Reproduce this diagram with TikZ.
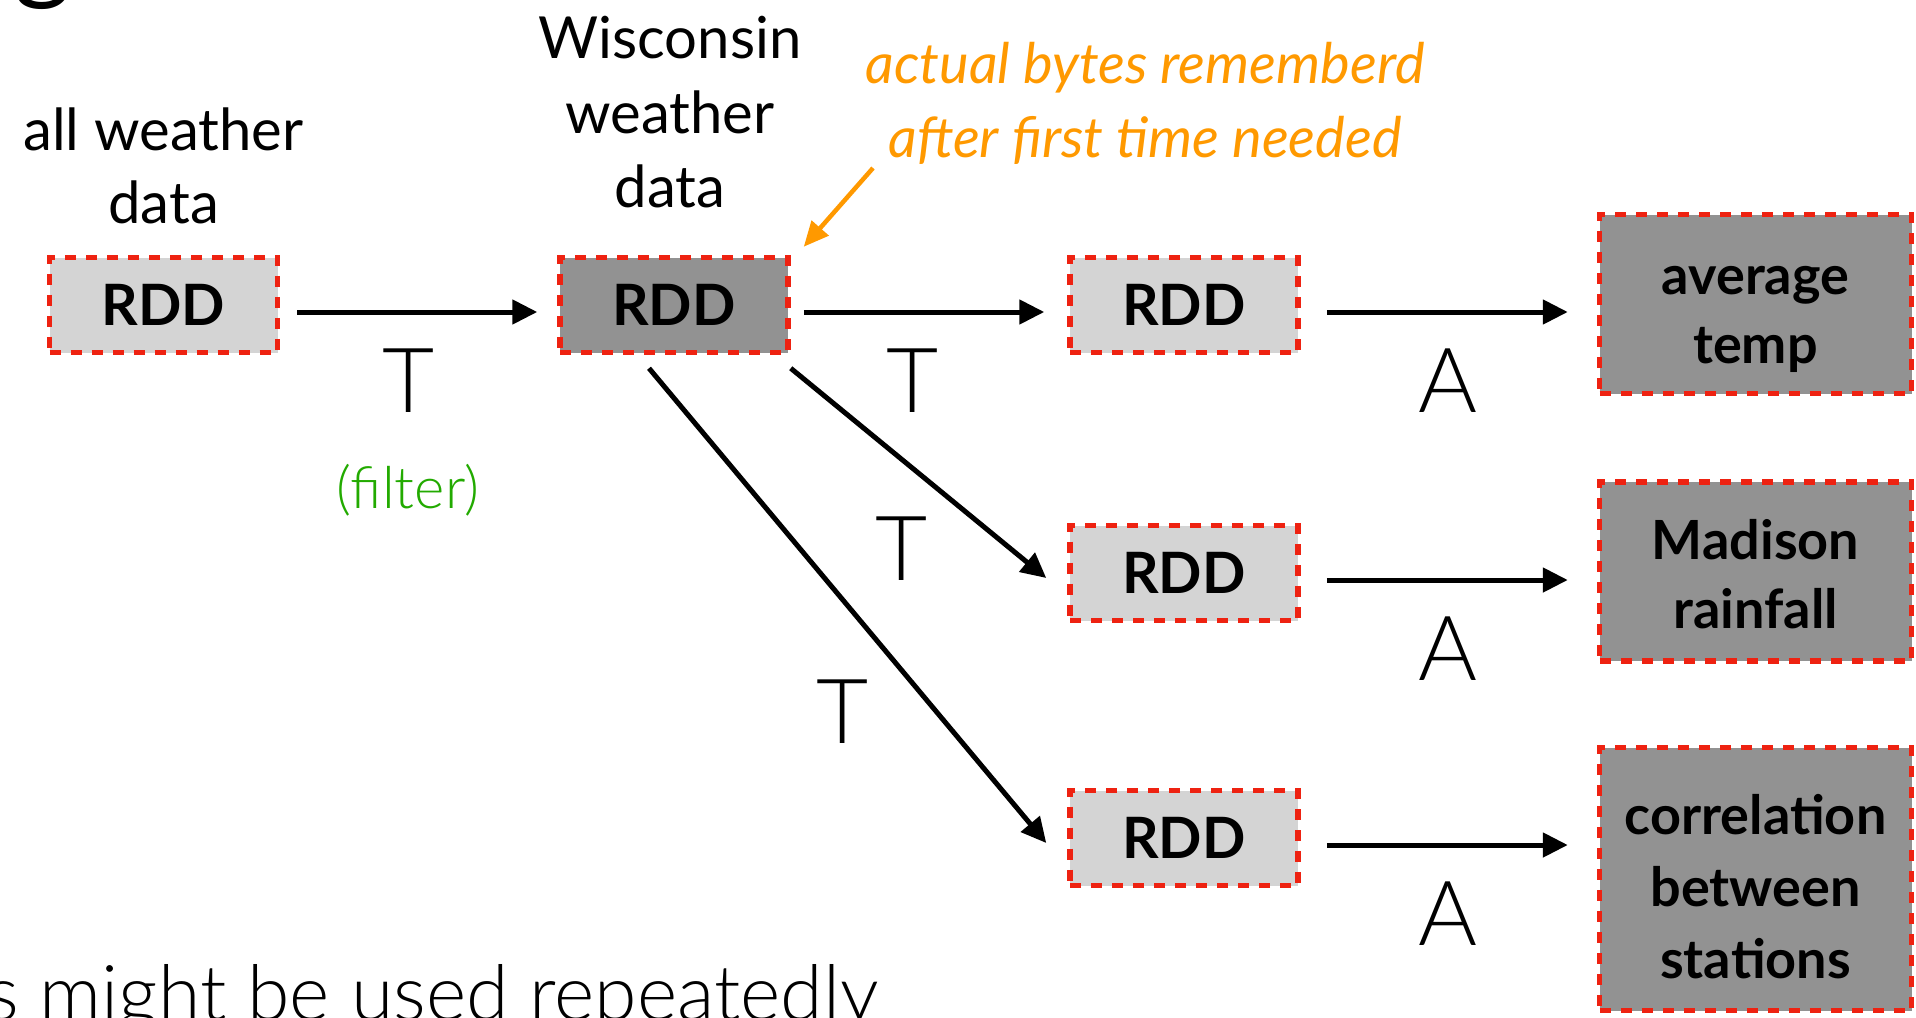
\documentclass[tikz,border=0pt]{standalone}
\usepackage{fontspec}
\setmainfont{Lato}
\newfontfamily\lightfont{Lato Light}
\usetikzlibrary{arrows.meta,calc}
\definecolor{lgray}{RGB}{212,212,212}
\definecolor{dgray}{RGB}{146,146,146}
\definecolor{dred}{RGB}{238,34,17}
\definecolor{fgreen}{RGB}{34,170,0}
\definecolor{norange}{RGB}{255,153,0}
\newcommand\lowertext[2]{\raisebox{-#1}[\height][\depth]{#2}}
\begin{document}
\begin{tikzpicture}[x=1pt,y=-1pt,
  box/.style={draw=dred, line width=5.5pt, dash pattern=on 11pt off 10pt, inner sep=0pt, align=center},
  rdd/.style={box, fill=lgray, minimum width=228pt, minimum height=95pt, font=\fontsize{57}{66}\selectfont\bfseries},
  res/.style={box, fill=dgray, minimum width=312pt, minimum height=179pt, font=\fontsize{54}{69}\selectfont\bfseries},
  lbl/.style={anchor=base, inner sep=0pt, font=\fontsize{58}{70}\selectfont},
  op/.style={anchor=base, inner sep=0pt, font=\lightfont\fontsize{90}{90}\selectfont},
  note/.style={anchor=base, inner sep=0pt, text=norange, font=\fontsize{56}{70}\selectfont\itshape},
  arr/.style={-{Triangle[length=25pt,width=24pt]}, line width=5pt},
  oarr/.style={-{Triangle[length=25pt,width=22pt]}, line width=4.5pt, draw=norange}
]
\useasboundingbox (0,0) rectangle (1916,1017);
\clip (0,0) rectangle (1916,1017);

% cropped slide text
\node[anchor=base west, inner sep=0pt, font=\fontsize{110}{110}\selectfont] (title) at (14,-10) {g};
\node[anchor=base west, inner sep=0pt, font=\lightfont\fontsize{77}{77}\selectfont] (bottom) at (-14,1020) {s might be used repeatedly};

% boxes
\node[rdd] (b1) at (163.5,305) {RDD};
\node[rdd, fill=dgray] (b2) at (674,305) {RDD};
\node[rdd] (b3) at (1184,305) {RDD};
\node[rdd] (b4) at (1184,573) {RDD};
\node[rdd] (b5) at (1184,838) {RDD};
\node[res] (r1) at (1755.5,304) {\lowertext{15pt}{average}\\\lowertext{15pt}{temp}};
\node[res] (r2) at (1755.5,571.5) {\lowertext{3pt}{Madison}\\\lowertext{3pt}{rainfall}};
\node[res, minimum height=263pt, font=\fontsize{54}{72}\selectfont\bfseries] (r3) at (1755.5,879) {\lowertext{8pt}{correlation}\\\lowertext{8pt}{between}\\\lowertext{8pt}{stations}};

% labels
\node[lbl] (aw1) at (163.5,150) {all weather};
\node[lbl] (aw2) at (163.5,223) {data};
\node[lbl] (ww1) at (670,58) {Wisconsin};
\node[lbl] (ww2) at (670,133) {weather};
\node[lbl] (ww3) at (670,207) {data};
\node[note] (n1) at (1145,83) {actual bytes rememberd};
\node[note] (n2) at (1145,157) {after first time needed};

% connectors
\draw[arr] ($(b1.east)+(17,7)$) -- ($(b2.west)+(-20,7)$);
\draw[arr] ($(b2.east)+(13,7)$) -- ($(b3.west)+(-23,7)$);
\draw[arr] ($(b3.east)+(26,7)$) -- ($(b3.east -| r1.west)+(-29,7)$);
\draw[arr] ($(b4.east)+(26,7)$) -- ($(b4.east -| r2.west)+(-29,7)$);
\draw[arr] ($(b5.east)+(26,7)$) -- ($(b5.east -| r3.west)+(-29,7)$);
\draw[arr] ($(b2.south east)+(0,13)$) -- ($(b4.west)+(-21,5)$);
\draw[arr] ($(b2.south)+(-25,13)$) -- ($(b5.west)+(-21,5)$);
\coordinate (ostart) at (873,168);
\draw[oarr] (ostart) -- ($(b2.north east)+(13,-8)$);

% operation labels
\node[op] (t1) at (409,412) {T};
\node[lbl, text=fgreen, font=\lightfont\fontsize{58}{70}\selectfont] (filt) at (408,508) {(filter)};
\node[op] (t2) at (913,412) {T};
\node[op] (t3) at (902,580) {T};
\node[op] (t4) at (843,743) {T};
\node[op] (a1) at (1448,412) {A};
\node[op] (a2) at (1448,680) {A};
\node[op] (a3) at (1448,945) {A};
\end{tikzpicture}
\end{document}
